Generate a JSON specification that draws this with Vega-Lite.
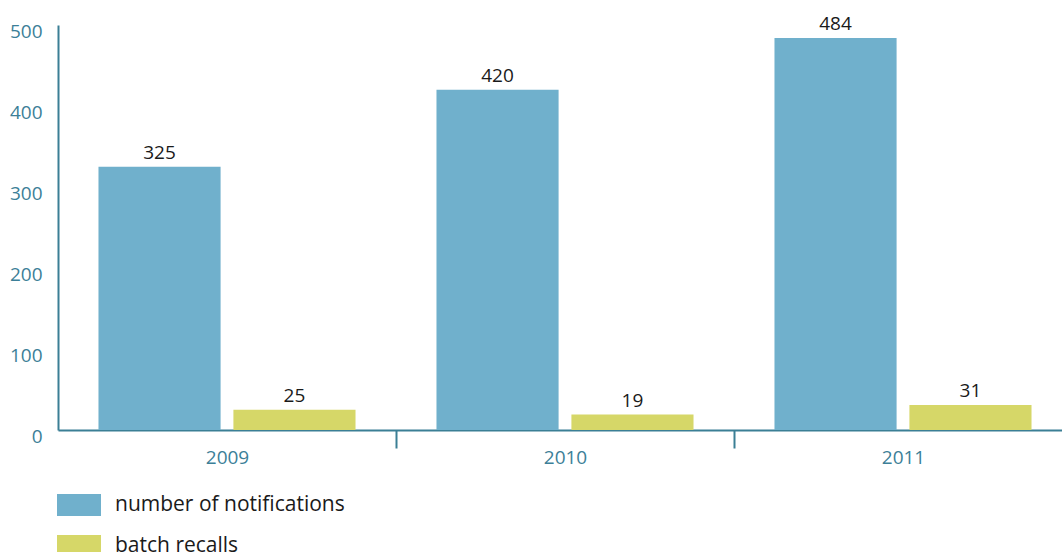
{
  "$schema": "https://vega.github.io/schema/vega-lite/v6.json",
  "autosize": {"type": "none"},
  "width": 1004,
  "height": 405,
  "padding": {"left": 58, "top": 25, "right": 0, "bottom": 122},
  "background": "white",
  "config": {"view": {"stroke": null}, "font": "Open Sans"},
  "data": {"values": [
    {"year": "2009", "series": "number of notifications", "value": 325},
    {"year": "2009", "series": "batch recalls", "value": 25},
    {"year": "2010", "series": "number of notifications", "value": 420},
    {"year": "2010", "series": "batch recalls", "value": 19},
    {"year": "2011", "series": "number of notifications", "value": 484},
    {"year": "2011", "series": "batch recalls", "value": 31}
  ]},
  "encoding": {
    "x": {"field": "year", "type": "nominal", "title": null,
      "scale": {"range": [0, 1014], "paddingInner": 0, "paddingOuter": 0},
      "axis": {"tickBand": "extent", "domainColor": "#3b7f95", "domainWidth": 2, "tickColor": "#3b7f95", "tickWidth": 2, "tickSize": 18,
        "tickOpacity": {"condition": {"test": "datum.extra", "value": 0}, "value": 1},
        "labelAngle": 0, "labelColor": "#3c7f98", "labelFontSize": 19, "labelPadding": 0, "labelFont": "Open Sans"}},
    "xOffset": {"field": "series", "type": "nominal", "sort": ["number of notifications", "batch recalls"],
      "scale": {"paddingInner": 0.095, "paddingOuter": 0.3}},
    "y": {"field": "value", "type": "quantitative", "title": null,
      "scale": {"domain": [0, 500], "nice": false},
      "axis": {"values": [0, 100, 200, 300, 400, 500], "grid": false, "ticks": false, "domainColor": "#3b7f95", "domainWidth": 2, "labelColor": "#3c7f98", "labelFontSize": 19, "labelPadding": 16, "labelOffset": 6, "labelFont": "Open Sans"}}
  },
  "layer": [
    {"mark": {"type": "bar"},
     "encoding": {
       "color": {"field": "series", "type": "nominal", "sort": ["number of notifications", "batch recalls"],
         "scale": {"domain": ["number of notifications", "batch recalls"], "range": ["#70b0cc", "#d6d768"]},
         "legend": {"title": null, "orient": "none", "legendX": -1, "legendY": 458, "padding": 0,
           "symbolType": "M-1,-0.5H1V0.5H-1Z", "symbolSize": 1936, "symbolStrokeWidth": 0,
           "labelFontSize": 21, "labelColor": "#1a1a1a", "labelFont": "Open Sans", "labelLimit": 400, "labelOffset": 14, "rowPadding": 8, "direction": "vertical"}}
     }},
    {"mark": {"type": "text", "baseline": "bottom", "dy": -4, "fontSize": 19, "color": "#1a1a1a", "font": "Open Sans"},
     "encoding": {"text": {"field": "value", "type": "quantitative"}}}
  ]
}
